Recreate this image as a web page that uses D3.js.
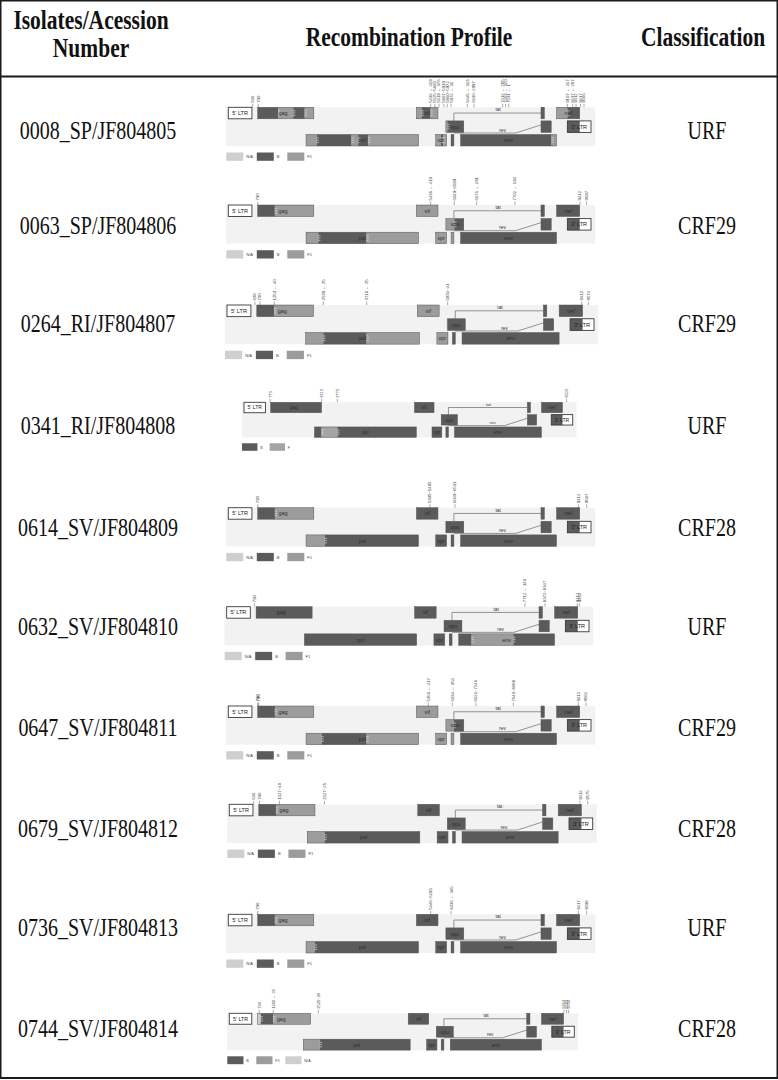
<!DOCTYPE html>
<html>
<head>
<meta charset="utf-8">
<script src="https://cdn.jsdelivr.net/npm/d3@7"></script>
<style>
  body { margin: 0; background: #fff; }
  svg { display: block; }
</style>
</head>
<body>
<div id="chart"></div>
<script>
// table content
const headers = [['Isolates/Acession', 'Number'], ['Recombination Profile'], ['Classification']];
const isolates = ['0008_SP/JF804805', '0063_SP/JF804806', '0264_RI/JF804807', '0341_RI/JF804808', '0614_SV/JF804809',
  '0632_SV/JF804810', '0647_SV/JF804811', '0679_SV/JF804812', '0736_SV/JF804813', '0744_SV/JF804814'];
const classes = ['URF', 'CRF29', 'CRF29', 'URF', 'CRF28', 'URF', 'CRF29', 'CRF28', 'URF', 'CRF28'];

// HXB2 gene map (lane 0 = top row of the drawing)
const genes = [
  { name: "5' LTR", start: 1, end: 634, lane: 0, ltr: true },
  { name: 'gag', start: 790, end: 2292, lane: 0, at: 0.45 },
  { name: 'vif', start: 5041, end: 5619, lane: 0 },
  { name: '', start: 8379, end: 8469, lane: 0 }, // tat exon 2
  { name: 'nef', start: 8797, end: 9417, lane: 0 },
  { name: 'vpu', start: 5831, end: 6310, lane: 1 },
  { name: '', start: 8379, end: 8653, lane: 1 }, // rev exon 2
  { name: "3' LTR", start: 9086, end: 9719, lane: 1, ltr: true, colored: [9086, 9417] },
  { name: 'pol', start: 2085, end: 5096, lane: 2 },
  { name: 'vpr', start: 5559, end: 5850, lane: 2 },
  { name: '', start: 5970, end: 6045, lane: 2 }, // rev exon 1
  { name: 'env', start: 6225, end: 8795, lane: 2 },
];

// mosaic segments [from, to, subtype], HXB2 numbering
const mosaics = [
  [[790, 1340, 'B'], [1340, 1740, 'F1'], [1740, 2050, 'B'], [2050, 2368, 'F1'], [2368, 3306, 'B'], [3306, 3480, 'F1'],
    [3480, 3752, 'B'], [3752, 5180, 'F1'], [5180, 5422, 'B'], [5422, 5700, 'F1'], [5700, 5760, 'B'], [5760, 5869, 'F1'],
    [5869, 8665, 'B'], [8665, 9085, 'F1'], [9085, 9719, 'B']],
  [[790, 1250, 'B'], [1250, 2412, 'F1'], [2412, 3707, 'B'], [3707, 6057, 'F1'], [6057, 9719, 'B']],
  [[790, 1253, 'B'], [1253, 2551, 'F1'], [2551, 3699, 'B'], [3699, 5844, 'F1'], [5844, 9719, 'B']],
  [[790, 2297, 'B'], [2297, 2760, 'F'], [2760, 9719, 'B']],
  [[790, 1251, 'B'], [1251, 2591, 'F1'], [2591, 9719, 'B']],
  [[790, 6572, 'B'], [6572, 7689, 'F1'], [7689, 9719, 'B']],
  [[790, 1251, 'B'], [1251, 2502, 'F1'], [2502, 3707, 'B'], [3707, 6040, 'F1'], [6040, 9719, 'B']],
  [[790, 1251, 'B'], [1251, 2546, 'F1'], [2546, 9719, 'B']],
  [[790, 1251, 'B'], [1251, 2323, 'F1'], [2323, 9719, 'B']],
  [[790, 884, 'N/A'], [884, 1240, 'B'], [1240, 2555, 'F1'], [2555, 9719, 'B']],
];

// breakpoint labels above the map [HXB2 position, label]
const breakpoints = [
  [[653, '636'], [805, '790'], [5423, '5436 ← 419'], [5539, '5525~5606'], [5646, '5619 ← 376'], [5780, '5807~5919'],
    [5869, '5860~5972'], [5968, '5972 ← 31'], [6405, '6445 ← 313'], [6584, '6636~2997'], [7352, '7412 ← 285'],
    [7432, '7463 ← 320'], [7513, '7531 ← 1'], [9085, '9107 ← 417'], [9228, '9237 ← 287'], [9317, '9412'],
    [9442, '9417'], [9531, '9566']],
  [[790, '790'], [5423, '5436 ← 419'], [6057, '6049~6599'], [6655, '6671 ← 291'], [7680, '7702 ← 193'],
    [9424, '9412'], [9600, '9597']],
  [[741, '636'], [874, '790'], [1253, '1253 ← 40'], [2551, '2539 ← 25'], [3699, '3716 ← 25'], [5844, '5834~41'],
    [9393, '9412'], [9569, '9574']],
  [[773, '773'], [2297, '2313'], [2760, '2773'], [9540, '9503']],
  [[790, '790'], [5405, '5395~5485'], [6075, '6049~6531'], [9380, '9412'], [9603, '9587']],
  [[741, '790'], [8002, '7712 ← 146'], [8538, '8372~8347'], [9406, '9412'], [9460, '9462']],
  [[787, '790'], [810, '796'], [5360, '5356 ← 417'], [6003, '6034 ← 354'], [6637, '6621~7246'], [7638, '7640~8088'],
    [9380, '9412'], [9585, '9582']],
  [[653, '636'], [805, '790'], [1341, '1327~40'], [2546, '2527~25'], [9380, '9412'], [9585, '9575']],
  [[787, '790'], [5423, '5446~6296'], [5968, '6036 ← 365'], [9380, '9417'], [9603, '9598']],
  [[845, '790'], [1240, '1240 ← 35'], [2508, '2526~26'], [9428, '9412'], [9503, '9503'], [9560, '9550']],
];

const legends = [
  ['N/A', 'B', 'F1'], ['N/A', 'B', 'F1'], ['N/A', 'B', 'F1'], ['B', 'F'], ['N/A', 'B', 'F1'],
  ['N/A', 'B', 'F1'], ['N/A', 'B', 'F1'], ['N/A', 'B', 'F1'], ['N/A', 'B', 'F1'], ['B', 'F1', 'N/A'],
];

// page layout
const width = 778;
const height = 1080;
const rowLabelY = [130, 225, 323, 425, 527, 626, 727, 828, 927, 1028];
// map extent: left px of HXB2 1, right px of HXB2 9719, top of first lane
const maps = [
  [228.3, 591.0, 107.3], [228.3, 591.0, 205], [227, 594, 305], [244, 572.7, 402.3], [228.3, 591.0, 507.7],
  [226.7, 589, 606.7], [228.3, 591.0, 706], [229.3, 592.7, 804.3], [228.3, 591.0, 914.3], [229.3, 574.3, 1013.3],
];

const fills = { B: '#5b5b5b', F1: '#9c9c9c', F: '#a4a4a4', 'N/A': '#cfcfcf' };
const serif = '"Liberation Serif", "Times New Roman", serif';
const sans = '"Liberation Sans", Arial, sans-serif';

const svg = d3.select('#chart').append('svg').attr('width', width).attr('height', height);
svg.append('rect').attr('width', width).attr('height', height).attr('fill', '#fff');

// table frame
svg.append('rect')
  .attr('x', 0.75).attr('y', 0.75).attr('width', width - 1.5).attr('height', 1077)
  .attr('fill', 'none').attr('stroke', '#1a1a1a').attr('stroke-width', 1.5);
svg.append('line').attr('x1', 0).attr('x2', width).attr('y1', 76.5).attr('y2', 76.5)
  .attr('stroke', '#1a1a1a').attr('stroke-width', 2);
svg.append('line').attr('x1', 0).attr('x2', width).attr('y1', 1078).attr('y2', 1078)
  .attr('stroke', '#1a1a1a').attr('stroke-width', 2);

function tallText(x, y, str, size, weight) {
  svg.append('text')
    .attr('transform', `translate(${x},${y}) scale(1,1.3)`)
    .attr('text-anchor', 'middle')
    .attr('font-family', serif)
    .attr('font-size', size)
    .attr('font-weight', weight)
    .attr('fill', '#111')
    .text(str);
}

// header
const headX = [91, 409, 703];
tallText(headX[0], 29, headers[0][0], 21.5, 'bold');
tallText(headX[0], 57, headers[0][1], 21.5, 'bold');
tallText(headX[1], 46, headers[1][0], 21.5, 'bold');
tallText(headX[2], 46, headers[2][0], 21.5, 'bold');

isolates.forEach((d, i) => {
  tallText(98, rowLabelY[i] + 8.5, d, 20, 'normal');
  tallText(707, rowLabelY[i] + 8.5, classes[i], 20, 'normal');
});

// recombination maps
maps.forEach(([x0, x1, top], i) => {
  const k = (x1 - x0) / 362.7;
  const x = d3.scaleLinear().domain([1, 9719]).range([x0, x1]);
  const h = 11.5 * k;
  const pitch = 13.6 * k;
  const y = (lane) => top + lane * pitch;
  const g = svg.append('g');
  const mosaic = mosaics[i];

  // background band
  g.append('rect')
    .attr('x', x(-60)).attr('y', top)
    .attr('width', x(9830) - x(-60)).attr('height', 2 * pitch + h)
    .attr('fill', '#f2f2f2');

  // tat and rev splice lines
  g.append('path')
    .attr('d', `M${x(6045)},${y(1)} V${y(0) + h / 2} H${x(8379)}`)
    .attr('fill', 'none').attr('stroke', '#6a6a6a').attr('stroke-width', 0.7);
  g.append('path')
    .attr('d', `M${x(6045)},${y(1) + h + 0.6} H${x(7700)} L${x(8379)},${y(1) + h * 0.35}`)
    .attr('fill', 'none').attr('stroke', '#6a6a6a').attr('stroke-width', 0.7);
  g.append('text').attr('x', x(7230)).attr('y', y(0) + h / 2 - 1.6)
    .attr('text-anchor', 'middle').attr('font-family', sans).attr('font-size', 4.8 * k)
    .attr('fill', '#333').text('tat');
  g.append('text').attr('x', x(7350)).attr('y', y(1) + h - 0.8)
    .attr('text-anchor', 'middle').attr('font-family', sans).attr('font-size', 4.8 * k)
    .attr('fill', '#333').text('rev');

  // gene boxes coloured by the mosaic
  genes.forEach((gene) => {
    const gy = y(gene.lane);
    if (gene.ltr) {
      g.append('rect').attr('x', x(gene.start)).attr('y', gy)
        .attr('width', x(gene.end) - x(gene.start)).attr('height', h)
        .attr('fill', '#fff');
    }
    const lo = gene.ltr ? (gene.colored ? gene.colored[0] : null) : gene.start;
    const hi = gene.ltr ? (gene.colored ? gene.colored[1] : null) : gene.end;
    if (lo !== null) {
      mosaic.forEach(([a, b, t]) => {
        const s = Math.max(a, lo);
        const e = Math.min(b, hi);
        if (e > s) {
          g.append('rect').attr('x', x(s)).attr('y', gy)
            .attr('width', x(e) - x(s)).attr('height', h)
            .attr('fill', fills[t]);
        }
      });
      // breakpoint marks inside the box
      mosaic.slice(1).forEach(([a]) => {
        if (a > lo + 20 && a < hi - 20) {
          [0.3, 0.5, 0.7].forEach((f) => {
            g.append('line')
              .attr('x1', x(a) - 0.4).attr('x2', x(a) + 2.2)
              .attr('y1', gy + h * f).attr('y2', gy + h * f)
              .attr('stroke', '#e4e4e4').attr('stroke-width', 0.6);
          });
        }
      });
    }
    g.append('rect').attr('x', x(gene.start)).attr('y', gy)
      .attr('width', x(gene.end) - x(gene.start)).attr('height', h)
      .attr('fill', 'none')
      .attr('stroke', gene.ltr ? '#3a3a3a' : '#555')
      .attr('stroke-width', gene.ltr ? 0.9 : 0.5);
    if (gene.name) {
      const at = gene.at ?? 0.5;
      g.append('text')
        .attr('x', x(gene.start + (gene.end - gene.start) * at))
        .attr('y', gy + h / 2 + 2 * k)
        .attr('text-anchor', 'middle').attr('font-family', sans)
        .attr('font-size', (gene.ltr ? 5.6 : 5.4) * k)
        .attr('fill', gene.ltr ? '#222' : '#2e2e2e')
        .text(gene.name);
    }
  });

  // breakpoint ticks and vertical labels
  breakpoints[i].forEach(([pos, label]) => {
    const bx = x(pos);
    g.append('line').attr('x1', bx).attr('x2', bx).attr('y1', top).attr('y2', top - 3.5)
      .attr('stroke', '#555').attr('stroke-width', 0.5);
    g.append('text')
      .attr('transform', `translate(${bx + 1.5},${top - 4.5}) rotate(-90)`)
      .attr('font-family', sans).attr('font-size', 4.3 * k)
      .attr('fill', '#444').text(label);
  });

  // legend
  const ly = top + 2 * pitch + h + 6.5 * k;
  legends[i].forEach((t, j) => {
    const lx = x0 - 2 + j * 30.5 * k;
    g.append('rect').attr('x', lx).attr('y', ly).attr('width', 17 * k).attr('height', 8.3 * k)
      .attr('fill', fills[t]);
    g.append('text').attr('x', lx + 20 * k).attr('y', ly + 5.8 * k)
      .attr('font-family', sans).attr('font-size', 4 * k).attr('fill', '#444').text(t);
  });
});
</script>
</body>
</html>
